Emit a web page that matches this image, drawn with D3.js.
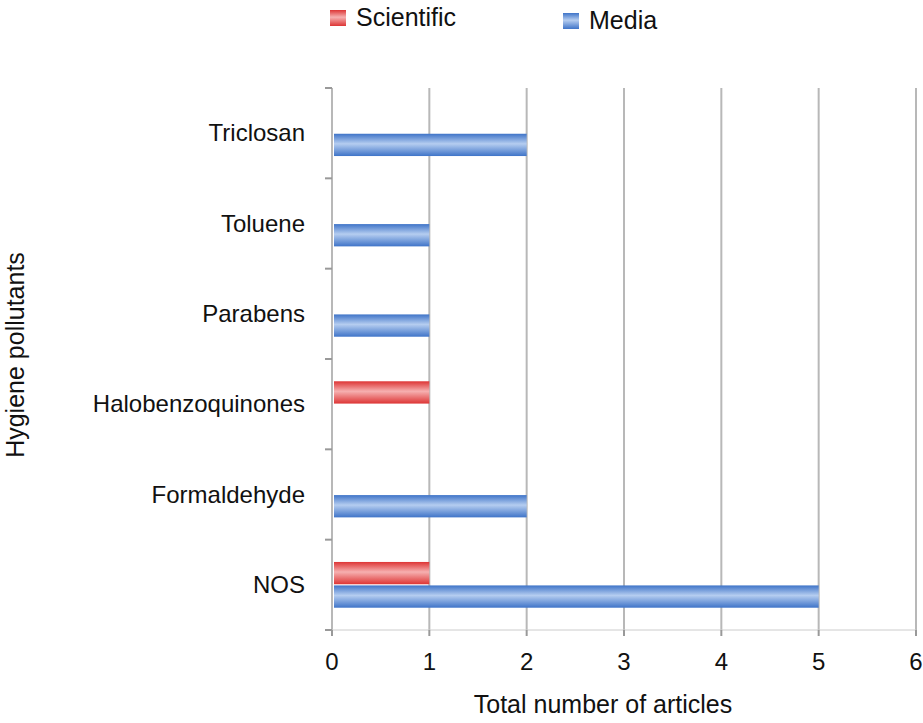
<!DOCTYPE html>
<html><head><meta charset="utf-8">
<script src="https://cdn.jsdelivr.net/npm/d3@7/dist/d3.min.js"></script>
<style>body{margin:0;background:#fff}text{font-family:"Liberation Sans",Arial,sans-serif}</style>
</head><body><svg id="c" width="923" height="723"></svg>
<script>
const categories=["Triclosan","Toluene","Parabens","Halobenzoquinones","Formaldehyde","NOS"];
const scientific=[0,0,0,1,0,1];
const media=[2,1,1,0,2,5];
const xTicks=[0,1,2,3,4,5,6];
const series=[{name:"Scientific",vals:scientific,id:"gr"},{name:"Media",vals:media,id:"gb"}];
const svg=d3.select("#c");
const defs=svg.append("defs");
function grad(id,edge,mid){const g=defs.append("linearGradient").attr("id",id).attr("x1",0).attr("x2",0).attr("y1",0).attr("y2",1);
[[0,edge],[0.45,mid],[1,edge]].forEach(s=>g.append("stop").attr("offset",s[0]).attr("stop-color",s[1]));}
grad("gr","#dd3535","#f6b0b0");grad("gb","#3f74c8","#b5cdf0");
const x=d3.scaleLinear().domain([0,6]).range([332,916]);
const y=d3.scaleBand().domain(categories).range([88,630]);
const inner=d3.scaleBand().domain(["Scientific","Media"]).range([0,y.bandwidth()]).paddingOuter(0.95).paddingInner(0.05);
const g=svg.append("g");
g.selectAll(".grid").data(xTicks.slice(1)).join("line").attr("x1",d=>x(d)).attr("x2",d=>x(d)).attr("y1",88).attr("y2",630).attr("stroke","#b8b8b8").attr("stroke-width",2);
// y axis
g.append("line").attr("x1",332).attr("x2",332).attr("y1",88).attr("y2",630).attr("stroke","#b8b8b8").attr("stroke-width",2);
const yt=[...categories.map(c=>y(c)),630];
g.selectAll(".yt").data(yt).join("line").attr("x1",325).attr("x2",332).attr("y1",d=>d).attr("y2",d=>d).attr("stroke","#999").attr("stroke-width",2);
g.append("line").attr("x1",332).attr("x2",916).attr("y1",630).attr("y2",630).attr("stroke","#ccc").attr("stroke-width",1);
g.selectAll(".xt").data(xTicks).join("line").attr("x1",d=>x(d)).attr("x2",d=>x(d)).attr("y1",630).attr("y2",636).attr("stroke","#999").attr("stroke-width",2);
series.forEach(s=>{
 g.selectAll(".b"+s.id).data(categories.map((c,i)=>({c,v:s.vals[i]})).filter(d=>d.v>0)).join("rect")
  .attr("x",x(0)+2).attr("width",d=>x(d.v)-x(0)-2).attr("y",d=>y(d.c)+inner(s.name)).attr("height",inner.bandwidth()).attr("fill",`url(#${s.id})`);
});
g.selectAll(".yl").data(categories).join("text").attr("x",305).attr("y",d=>y(d)+y.bandwidth()/2+8).attr("text-anchor","end").attr("font-size",24).attr("fill","#111").text(d=>d);
g.selectAll(".xl").data(xTicks).join("text").attr("x",d=>x(d)).attr("y",670).attr("text-anchor","middle").attr("font-size",24).attr("fill","#111").text(d=>d);
svg.append("text").attr("x",603).attr("y",713).attr("text-anchor","middle").attr("font-size",25).attr("fill","#111").text("Total number of articles");
svg.append("text").attr("transform","translate(24,355) rotate(-90)").attr("text-anchor","middle").attr("font-size",25).attr("fill","#111").text("Hygiene pollutants");
const leg=[{n:"Scientific",id:"gr",x:330,y:10},{n:"Media",id:"gb",x:563,y:13}];
leg.forEach(l=>{svg.append("rect").attr("x",l.x).attr("y",l.y).attr("width",16).attr("height",16).attr("fill",`url(#${l.id})`);
svg.append("text").attr("x",l.x+26).attr("y",l.y+16).attr("font-size",25).attr("fill","#111").text(l.n);});
</script></body></html>
